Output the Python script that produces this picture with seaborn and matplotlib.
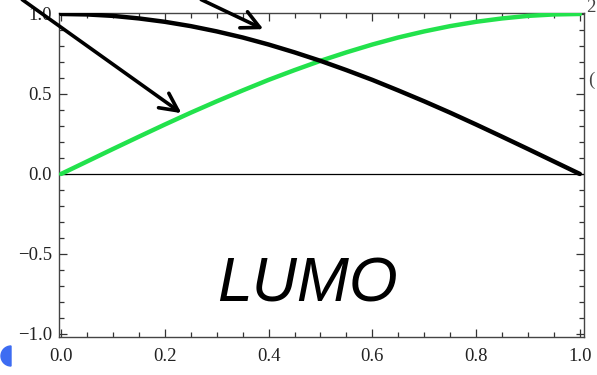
import matplotlib
matplotlib.use("Agg")
import matplotlib.pyplot as plt
from matplotlib.patches import Wedge
from matplotlib.transforms import IdentityTransform
from matplotlib.ticker import MultipleLocator
import numpy as np
import pandas as pd
import seaborn as sns

# Sampled orbital coefficients along the coordinate
x_vals = [0.00, 0.05, 0.10, 0.15, 0.20, 0.25, 0.30, 0.35, 0.40, 0.45, 0.50,
          0.55, 0.60, 0.65, 0.70, 0.75, 0.80, 0.85, 0.90, 0.95, 1.00]
black_vals = [1.000, 0.997, 0.988, 0.972, 0.951, 0.924, 0.891, 0.853, 0.809, 0.760, 0.707,
              0.649, 0.588, 0.522, 0.454, 0.383, 0.309, 0.233, 0.156, 0.078, 0.000]
green_vals = [0.000, 0.078, 0.156, 0.233, 0.309, 0.383, 0.454, 0.522, 0.588, 0.649, 0.707,
              0.760, 0.809, 0.853, 0.891, 0.924, 0.951, 0.972, 0.988, 0.997, 1.000]
x_ticks = [0.0, 0.2, 0.4, 0.6, 0.8, 1.0]
y_ticks = [-1.0, -0.5, 0.0, 0.5, 1.0]
label_text = "LUMO"

sns.set_theme(style="ticks")
plt.rcParams["font.family"] = ["Liberation Serif", "DejaVu Serif"]

fig = plt.figure(figsize=(5.97, 3.75), dpi=100)
ax = fig.add_axes([59 / 597, 1 - 337 / 375, (584 - 59) / 597, (337 - 13) / 375])

df = pd.DataFrame({"x": x_vals, "black": black_vals, "green": green_vals})
sns.lineplot(data=df, x="x", y="green", ax=ax, color="#22e24c", lw=3.2,
             solid_capstyle="round", zorder=3)
sns.lineplot(data=df, x="x", y="black", ax=ax, color="black", lw=3.2,
             solid_capstyle="round", zorder=4)
ax.axhline(0, color="black", lw=0.9, zorder=2)

ax.set_xlim(-0.004, 1.008)
ax.set_ylim(-1.019, 1.006)
ax.set_xlabel("")
ax.set_ylabel("")
ax.set_xticks(x_ticks)
ax.set_xticklabels([f"{v:.1f}" for v in x_ticks])
ax.set_yticks(y_ticks)
ax.set_yticklabels([f"{v:.1f}".replace("-", "\u2212") for v in y_ticks])
ax.xaxis.set_minor_locator(MultipleLocator(0.05))
ax.yaxis.set_minor_locator(MultipleLocator(0.1))
ax.tick_params(which="both", direction="in", top=True, right=True,
               color="#333333", labelsize=13.5, labelcolor="#222222")
ax.tick_params(axis="x", which="major", pad=8)
ax.tick_params(axis="y", which="major", pad=5)
ax.tick_params(which="major", length=6, width=0.9)
ax.tick_params(which="minor", length=3.5, width=0.9)
for s in ax.spines.values():
    s.set_color("#444444")
    s.set_linewidth(1.0)

ax.text(0.475, -0.695, label_text, fontsize=45, style="italic", color="black",
        family=["Liberation Sans", "DejaVu Sans"], ha="center", va="center", zorder=5)

# Pointer arrows coming in from the upper left
arrow_kw = dict(arrowstyle="->", color="black", lw=2.6, mutation_scale=32,
                shrinkA=0, shrinkB=0)
ax.annotate("", xy=(0.39, 0.905), xytext=(0.27, 1.09),
            arrowprops=arrow_kw, annotation_clip=False)
ax.annotate("", xy=(0.232, 0.38), xytext=(-0.075, 1.09),
            arrowprops=arrow_kw, annotation_clip=False)

# Fragments at the figure edges
fig.text(586 / 597, 1 - 8 / 375, "2", fontsize=13.5, color="#444444", va="center")
fig.text(588 / 597, 1 - 80 / 375, "(", fontsize=13.5, color="#444444", va="center")
fig.patches.append(Wedge((11, 375 - 356), 10, 90, 270, transform=IdentityTransform(),
                         color="#3d6cf2", figure=fig))

fig.savefig("out.png", dpi=100)
